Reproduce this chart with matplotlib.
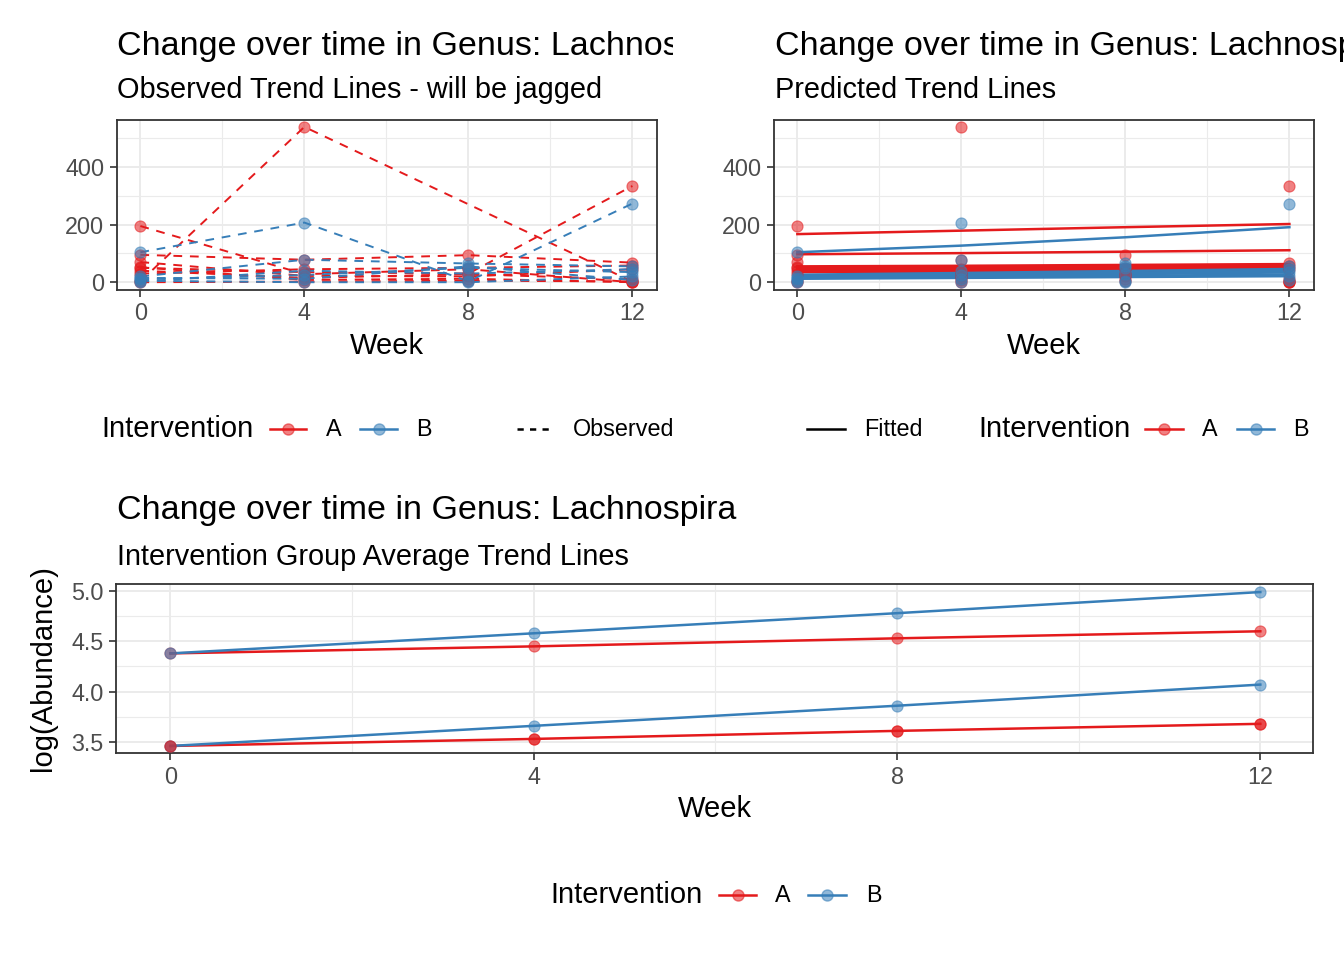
import numpy as np
import matplotlib
matplotlib.use("Agg")
import matplotlib.pyplot as plt
from matplotlib.lines import Line2D
from matplotlib.transforms import Bbox

plt.rcParams["font.family"] = ["Liberation Sans", "DejaVu Sans"]

W, H = 1344, 960
RED = "#E41A1C"
BLUE = "#377EB8"
GRID = "#EBEBEB"
DARK = "#333333"
TICKC = "#4D4D4D"

weeks = [0, 4, 8, 12]

# observed abundance per subject (nan = missing visit)
obs_A = [
    [195, 28, 45, 0],
    [95, 78, 94, 68],
    [3, 539, np.nan, 2],
    [50, 35, 30, 334],
    [70, 22, 20, 45],
    [40, 15, 28, 10],
    [52, 8, 12, 0],
    [0, 2, 5, 3],
    [30, 45, 50, 58],
]
obs_B = [
    [104, 207, 3, 273],
    [20, 78, 65, 55],
    [10, 25, 50, 35],
    [5, 0, 0, 20],
    [2, 40, 30, 45],
    [15, 12, 55, 8],
]

# fitted (back-transformed) trend per subject
fit_A = [
    [167, 179, 191, 202],
    [97, 101, 106, 111],
    [55, 57, 60, 63],
    [50, 52, 55, 58],
    [46, 48, 51, 54],
    [43, 45, 47, 50],
    [40, 42, 44, 47],
    [37, 39, 41, 44],
    [35, 36, 38, 40],
]
fit_B = [
    [104, 127, 156, 191],
    [26, 32, 39, 46],
    [22, 27, 33, 40],
    [19, 23, 28, 34],
    [15, 18, 22, 27],
    [12, 15, 18, 21],
]

# group average trends on log scale
avg_A_hi = [4.38, 4.45, 4.53, 4.60]
avg_B_hi = [4.38, 4.58, 4.78, 4.99]
avg_A_lo = [3.46, 3.53, 3.61, 3.68]
avg_B_lo = [3.46, 3.66, 3.86, 4.07]

fig = plt.figure(figsize=(W / 100, H / 100), dpi=100)


def fx(x):
    return x / W


def fy(y):
    return 1 - y / H


def px_axes(x0, y0, x1, y1):
    return fig.add_axes([fx(x0), fy(y1), (x1 - x0) / W, (y1 - y0) / H])


def style_axes(ax, xlim, ylim, yticks, yminor, ylabels):
    ax.set_xlim(*xlim)
    ax.set_ylim(*ylim)
    ax.set_xticks(weeks)
    ax.set_xticks([2, 6, 10], minor=True)
    ax.set_yticks(yticks)
    ax.set_yticks(yminor, minor=True)
    ax.set_yticklabels(ylabels)
    ax.grid(True, which="major", color=GRID, lw=1.4)
    ax.grid(True, which="minor", color=GRID, lw=0.8)
    ax.set_axisbelow(True)
    ax.tick_params(which="major", length=5, width=1.2, color=DARK,
                   labelsize=16.8, labelcolor=TICKC, pad=4)
    ax.tick_params(which="minor", length=0)
    for s in ax.spines.values():
        s.set_color(DARK)
        s.set_linewidth(1.3)


def pt_marks(ax, ys, color):
    ax.plot(weeks, ys, "o", color=color, ms=8, alpha=0.55, mew=0.8, zorder=3)


def clipped_text(x, y, s, size, clip_x1):
    t = fig.text(fx(x), fy(y), s, fontsize=size, ha="left", va="center")
    t.set_clip_box(Bbox.from_extents(0, 0, clip_x1, H))
    t.set_clip_on(True)
    return t


def legend_key(x0, x1, y, color, ls="-", marker=True):
    fig.add_artist(Line2D([fx(x0), fx(x1)], [fy(y), fy(y)], color=color,
                          lw=1.8, ls=ls, transform=fig.transFigure))
    if marker:
        fig.add_artist(Line2D([fx((x0 + x1) / 2)], [fy(y)], marker="o",
                              color=color, ms=8, alpha=0.55,
                              transform=fig.transFigure))


def legend_label(x, y, s, size=16.8):
    fig.text(fx(x), fy(y), s, fontsize=size, ha="left", va="center")


top_ylim = (-27, 563)
top_xlim = (-0.57, 12.6)

# --- top left: observed
ax1 = px_axes(117, 120, 657, 290)
style_axes(ax1, top_xlim, top_ylim, [0, 200, 400], [100, 300, 500],
           ["0", "200", "400"])
for subj in obs_A:
    s = np.array(subj, dtype=float)
    m = ~np.isnan(s)
    ax1.plot(np.array(weeks)[m], s[m], color=RED, lw=1.4, ls=(0, (4.5, 4)))
    pt_marks(ax1, s, RED)
for subj in obs_B:
    s = np.array(subj, dtype=float)
    m = ~np.isnan(s)
    ax1.plot(np.array(weeks)[m], s[m], color=BLUE, lw=1.4, ls=(0, (4.5, 4)))
    pt_marks(ax1, s, BLUE)
ax1.set_xlabel("Week", fontsize=21, labelpad=5)

# --- top right: fitted
ax2 = px_axes(774, 120, 1314, 290)
style_axes(ax2, top_xlim, top_ylim, [0, 200, 400], [100, 300, 500],
           ["0", "200", "400"])
for subj in obs_A:
    pt_marks(ax2, subj, RED)
for subj in obs_B:
    pt_marks(ax2, subj, BLUE)
for f in fit_A:
    ax2.plot(weeks, f, color=RED, lw=1.8)
for f in fit_B:
    ax2.plot(weeks, f, color=BLUE, lw=1.8)
ax2.set_xlabel("Week", fontsize=21, labelpad=5)

# --- bottom: group averages
ax3 = px_axes(116, 584, 1313, 753)
style_axes(ax3, (-0.6, 12.58), (3.39, 5.07), [3.5, 4.0, 4.5, 5.0],
           [3.75, 4.25, 4.75], ["3.5", "4.0", "4.5", "5.0"])
for ys, c in [(avg_A_hi, RED), (avg_B_hi, BLUE), (avg_A_lo, RED), (avg_B_lo, BLUE)]:
    ax3.plot(weeks, ys, color=c, lw=1.8)
    pt_marks(ax3, ys, c)
pt_marks(ax3, avg_A_lo, RED)
ax3.set_xlabel("Week", fontsize=21, labelpad=5)
fig.text(fx(43), fy(668), "log(Abundance)", fontsize=21, rotation=90,
         ha="center", va="center")

# titles
clipped_text(117, 46, "Change over time in Genus: Lachnospira", 24.5, 673)
clipped_text(117, 90, "Observed Trend Lines - will be jagged", 20.8, 673)
clipped_text(775, 46, "Change over time in Genus: Lachnospira", 24.5, W)
clipped_text(775, 90, "Predicted Trend Lines", 20.8, W)
clipped_text(117, 511, "Change over time in Genus: Lachnospira", 24.5, W)
clipped_text(117, 557, "Intervention Group Average Trend Lines", 20.8, W)

# legends (top row)
ly = 429
legend_label(101, ly, "Intervention", 21)
legend_key(270, 306, ly, RED)
legend_label(326, ly, "A")
legend_key(360, 397, ly, BLUE)
legend_label(416, ly, "B")
legend_key(517, 553, ly, "black", ls=(0, (2.5, 2.5)), marker=False)
legend_label(573, ly, "Observed")
legend_key(807, 845, ly, "black", marker=False)
legend_label(864, ly, "Fitted")
legend_label(978, ly, "Intervention", 21)
legend_key(1145, 1183, ly, RED)
legend_label(1202, ly, "A")
legend_key(1237, 1274, ly, BLUE)
legend_label(1293, ly, "B")

# legend (bottom)
by = 895
legend_label(550, by, "Intervention", 21)
legend_key(719, 756, by, RED)
legend_label(775, by, "A")
legend_key(808, 846, by, BLUE)
legend_label(866, by, "B")

fig.savefig("out.png", dpi=100, facecolor="white")
